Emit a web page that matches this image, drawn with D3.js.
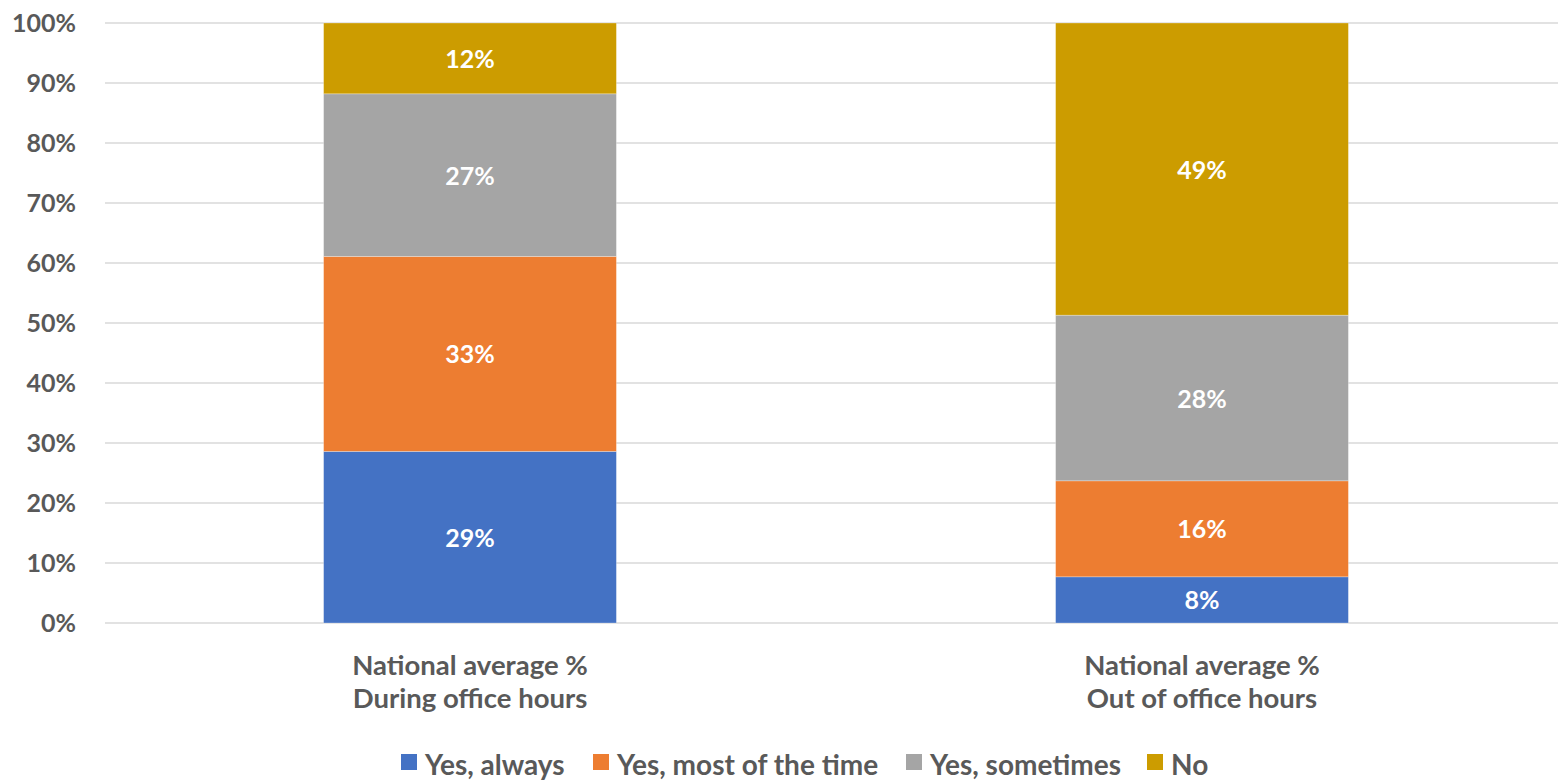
<!DOCTYPE html>
<html><head><meta charset="utf-8">
<script src="https://cdn.jsdelivr.net/npm/d3@7"></script>
<style>
html,body{margin:0;padding:0;background:#fff;}
svg{display:block;font-family:Lato,"Open Sans",sans-serif;}
</style></head>
<body>
<script>
const categories = [["National average %","During office hours"],["National average %","Out of office hours"]];
const seriesNames = ["Yes, always","Yes, most of the time","Yes, sometimes","No"];
const seriesColors = ["#4472C4","#ED7D31","#A5A5A5","#CC9C00"];
const yesAlways = [28.6, 7.7];
const yesMost = [32.5, 16.0];
const yesSometimes = [27.1, 27.6];
const no = [11.8, 48.7];
const yTicks = [0,10,20,30,40,50,60,70,80,90,100];

const W = 1558, H = 780;
const svg = d3.select("body").append("svg").attr("width", W).attr("height", H);

const x = d3.scaleBand().domain([0,1]).range([104, 1568]).paddingInner(0.6).paddingOuter(0.3);
const y = d3.scaleLinear().domain([0,100]).range([623, 23]);

// gridlines
svg.append("g").selectAll("line").data(yTicks).join("line")
  .attr("x1", 105).attr("x2", W)
  .attr("y1", d => y(d)).attr("y2", d => y(d))
  .attr("stroke", "#D9D9D9").attr("stroke-width", 1.5);

// y axis
const yAxis = d3.axisLeft(y).tickValues(yTicks).tickFormat(d => d + "%").tickSize(0).tickPadding(0);
const gy = svg.append("g").attr("transform", "translate(76,0)").call(yAxis);
gy.select(".domain").remove();
gy.selectAll("text").attr("fill", "#595959").attr("font-size", 25).attr("font-weight", 700).attr("font-family", "Lato");

// stacked data
const series = [yesAlways, yesMost, yesSometimes, no];
const rows = [0,1].map(i => { const r = {i}; series.forEach((s,k) => r[k] = s[i]); return r; });
const stack = d3.stack().keys([0,1,2,3])(rows);

const g = svg.append("g");
stack.forEach((layer, k) => {
  g.selectAll(null).data(layer).join("rect")
    .attr("x", d => x(d.data.i))
    .attr("width", x.bandwidth())
    .attr("y", d => y(d[1]))
    .attr("height", d => y(d[0]) - y(d[1]))
    .attr("fill", seriesColors[k])
    .attr("stroke", "rgba(255,255,255,0.35)").attr("stroke-width", 0.8);
});
stack.forEach((layer, k) => {
  g.selectAll(null).data(layer).join("text")
    .attr("x", d => x(d.data.i) + x.bandwidth()/2)
    .attr("y", d => (y(d[0]) + y(d[1]))/2)
    .attr("dy", "0.38em")
    .attr("text-anchor", "middle")
    .attr("fill", "#fff").attr("font-size", 25).attr("font-weight", 700)
    .text(d => Math.round(d[1]-d[0]) + "%");
});

// category labels
const gx = svg.append("g");
categories.forEach((lines, i) => {
  const t = gx.append("text").attr("text-anchor", "middle")
    .attr("x", x(i) + x.bandwidth()/2).attr("y", 675)
    .attr("fill", "#595959").attr("font-size", 27.5).attr("font-weight", 700);
  lines.forEach((l, j) => t.append("tspan").attr("x", x(i) + x.bandwidth()/2).attr("dy", j ? 33 : 0).text(l));
});

// legend
const legX = [401, 593, 906, 1147];
const leg = svg.append("g");
seriesNames.forEach((n, k) => {
  leg.append("rect").attr("x", legX[k]).attr("y", 754).attr("width", 16).attr("height", 16).attr("fill", seriesColors[k]);
  leg.append("text").attr("x", legX[k] + 24).attr("y", 775)
    .attr("fill", "#595959").attr("font-size", 28).attr("font-weight", 700).text(n);
});
</script>
</body></html>
